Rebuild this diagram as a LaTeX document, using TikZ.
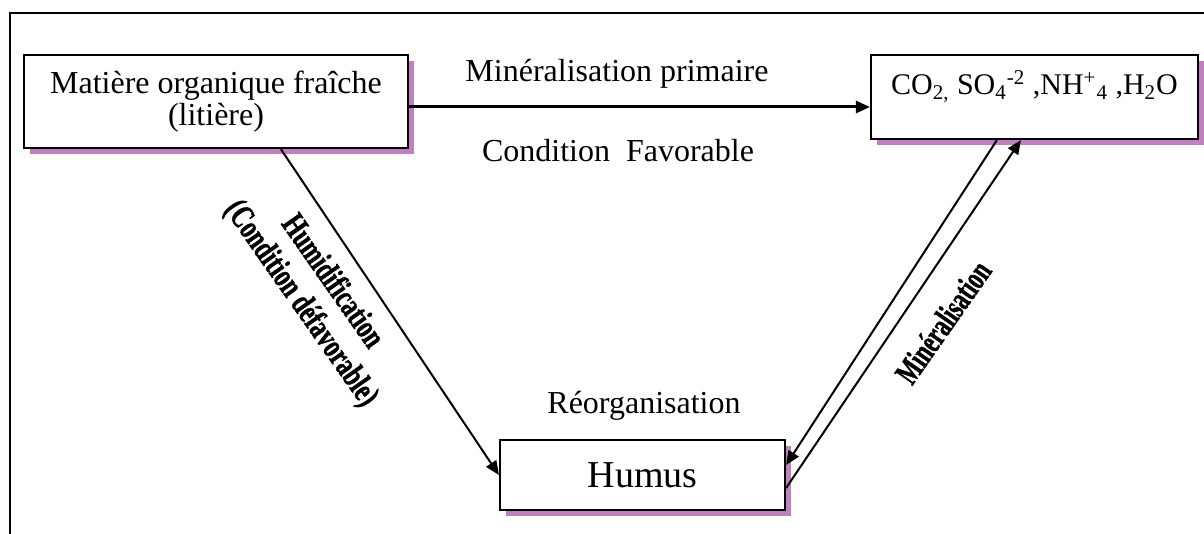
\documentclass[tikz,border=0pt]{standalone}
\usepackage{fontspec}
\setmainfont{Liberation Serif}
\newfontfamily\heavyfont[BoldFeatures={FakeBold=1.5}]{Liberation Serif}
\usetikzlibrary{calc,shadows,arrows.meta}
\definecolor{shadowpurple}{RGB}{192,128,192}

\begin{document}
\begin{tikzpicture}[x=0.5pt, y=-0.5pt, >={Triangle[length=7pt,width=6pt]},
    box/.style={draw, line width=1.1pt, fill=white, inner sep=0pt,
        font=\fontsize{16}{16}\selectfont,
        drop shadow={shadow xshift=3pt, shadow yshift=-3pt, fill=shadowpurple, opacity=1}},
    lbl/.style={font=\fontsize{16}{19}\selectfont, inner sep=0pt},
    wlbl/.style={font=\fontsize{16}{19}\heavyfont\bfseries\selectfont, align=center, inner sep=0pt}]
        \useasboundingbox (0,0) rectangle (1204,534);

        % --- 1. Frame ---
        \draw[line width=1pt] (1204,13) -- (10,13) -- (10,534);

        % --- 2. Boxes ---
        \node[box, align=center, minimum width=192pt, minimum height=46.5pt] (mof) at (216,101.5)
            {Matière organique fraîche\\(litière)};
        \node[box, minimum width=163.5pt, text height=20pt, text depth=22pt, anchor=base,
            font=\fontsize{15}{15}\selectfont] (prod) at (1034.5,95)
            {CO\textsubscript{2,} SO\textsubscript{4}\textsuperscript{-2} ,NH\textsuperscript{+}\textsubscript{4} ,H\textsubscript{2}O};
        \node[box, minimum width=142.5pt, minimum height=35pt, font=\fontsize{19}{19}\selectfont] (humus) at (642.5,475) {Humus};

        % --- 3. Labels ---
        \node[lbl, anchor=base] (minprim) at (617,82) {Minéralisation primaire};
        \node[lbl, anchor=base] (condfav) at (618,162) {Condition\ \ Favorable};
        \node[lbl, anchor=base] (reorg) at (644,413) {Réorganisation};
        \node[wlbl, rotate=-55] (humid) at (316,293)
            {\scalebox{0.74}[1.05]{Humidification}\\\scalebox{0.74}[1.05]{(Condition défavorable)}};
        \node[wlbl, rotate=55] (miner) at (943,322) {\scalebox{0.7}[1.05]{Minéralisation}};

        % --- 4. Arrows ---
        \coordinate (hstart) at ($(mof.south west)+(258,0)$);
        \coordinate (m1) at ($(prod.south west)+(127,0)$);
        \coordinate (m2) at ($(prod.south west)+(151,0)$);
        \coordinate (hin) at ($(humus.east)+(0,-10)$);
        \coordinate (hout) at ($(humus.east)+(0,13)$);
        \coordinate (pstart) at ($(mof.east)+(0,5.5)$);
        \coordinate (pend) at ($(prod.west)+(0,10)$);

        \draw[->, line width=1.5pt] (pstart) -- (pend);
        \draw[->, line width=1pt] (hstart) -- (humus.west);
        \draw[->, line width=1pt] (m1) -- (hin);
        \draw[->, line width=1pt] (hout) -- (m2);
    \end{tikzpicture}
\end{document}
